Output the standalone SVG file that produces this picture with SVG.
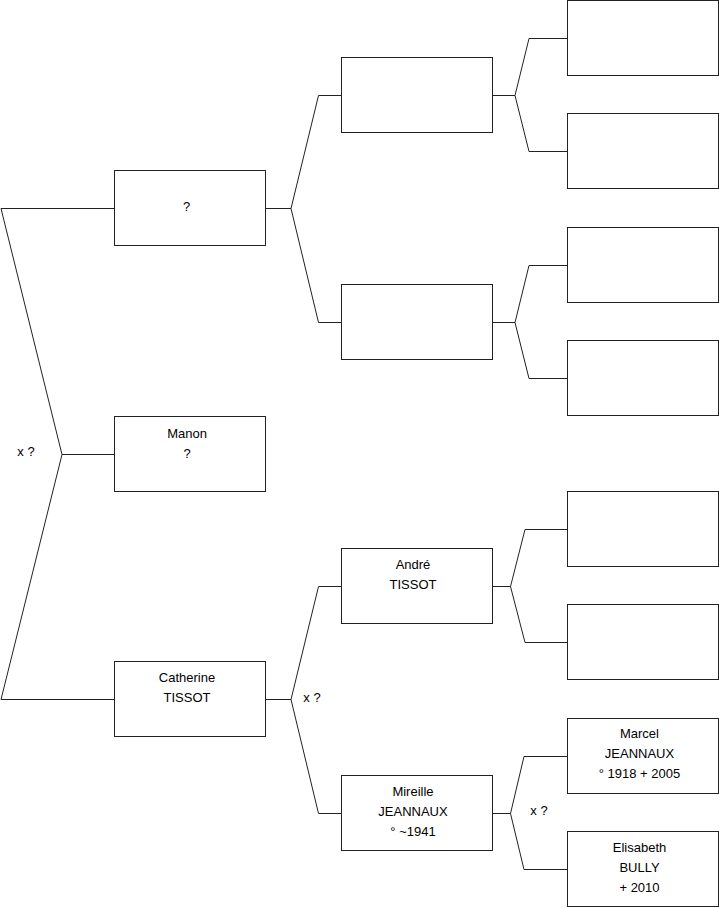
<svg xmlns="http://www.w3.org/2000/svg" width="719" height="908" viewBox="0 0 719 908">
<style>
.box{fill:#fff;stroke:#222;stroke-width:1}
.ln{fill:none;stroke:#222;stroke-width:1}
text{font-family:"Liberation Sans",Arial,sans-serif;font-size:13px;fill:#000;text-anchor:middle}
</style>
<rect width="719" height="908" fill="#fff"/>
<g id="connectors">
<polyline class="ln" points="114,208.5 1,208.5 62,454.5 1,699.5 114,699.5"/>
<line class="ln" x1="62" y1="454.5" x2="114" y2="454.5"/>
<polyline class="ln" points="341,95.5 318.5,95.5 291,208.5 318.5,322.5 341,322.5"/>
<line class="ln" x1="265" y1="208.5" x2="291" y2="208.5"/>
<polyline class="ln" points="567,38.5 529,38.5 515,95.5 529,151.5 567,151.5"/>
<line class="ln" x1="492" y1="95.5" x2="515" y2="95.5"/>
<polyline class="ln" points="567,265.5 529,265.5 515,322.5 529,378.5 567,378.5"/>
<line class="ln" x1="492" y1="322.5" x2="515" y2="322.5"/>
<polyline class="ln" points="341,586.5 318.5,586.5 291,699.5 318.5,813.5 341,813.5"/>
<line class="ln" x1="265" y1="699.5" x2="291" y2="699.5"/>
<polyline class="ln" points="567,529.5 525,529.5 510.5,586.5 525,642.5 567,642.5"/>
<line class="ln" x1="492" y1="586.5" x2="510.5" y2="586.5"/>
<polyline class="ln" points="567,756.5 524,756.5 510.5,813.5 524,869.5 567,869.5"/>
<line class="ln" x1="492" y1="813.5" x2="510.5" y2="813.5"/>
<text x="26" y="456">x ?</text>
<text x="312" y="702">x ?</text>
<text x="539" y="815">x ?</text>
</g>
<g id="n1"><rect class="box" x="114.5" y="170.5" width="151" height="75"/><text x="186.5" y="211">?</text></g>
<g id="n2"><rect class="box" x="114.5" y="416.5" width="151" height="75"/><text x="187" y="438">Manon</text><text x="187" y="458">?</text></g>
<g id="n3"><rect class="box" x="114.5" y="661.5" width="151" height="75"/><text x="187" y="682">Catherine</text><text x="187" y="702">TISSOT</text></g>
<g id="n4"><rect class="box" x="341.5" y="57.5" width="151" height="75"/></g>
<g id="n5"><rect class="box" x="341.5" y="284.5" width="151" height="75"/></g>
<g id="n6"><rect class="box" x="341.5" y="548.5" width="151" height="75"/><text x="413" y="569">André</text><text x="413" y="589">TISSOT</text></g>
<g id="n7"><rect class="box" x="341.5" y="775.5" width="151" height="75"/><text x="413" y="796">Mireille</text><text x="413" y="816">JEANNAUX</text><text x="413" y="836">° ~1941</text></g>
<g id="n8"><rect class="box" x="567.5" y="0.5" width="151" height="75"/></g>
<g id="n9"><rect class="box" x="567.5" y="113.5" width="151" height="75"/></g>
<g id="n10"><rect class="box" x="567.5" y="227.5" width="151" height="75"/></g>
<g id="n11"><rect class="box" x="567.5" y="340.5" width="151" height="75"/></g>
<g id="n12"><rect class="box" x="567.5" y="491.5" width="151" height="75"/></g>
<g id="n13"><rect class="box" x="567.5" y="604.5" width="151" height="75"/></g>
<g id="n14"><rect class="box" x="567.5" y="718.5" width="151" height="75"/><text x="639.5" y="738">Marcel</text><text x="639.5" y="758">JEANNAUX</text><text x="639.5" y="778">° 1918 + 2005</text></g>
<g id="n15"><rect class="box" x="567.5" y="831.5" width="151" height="75"/><text x="639.5" y="852">Elisabeth</text><text x="639.5" y="872">BULLY</text><text x="639.5" y="892">+ 2010</text></g>
</svg>
